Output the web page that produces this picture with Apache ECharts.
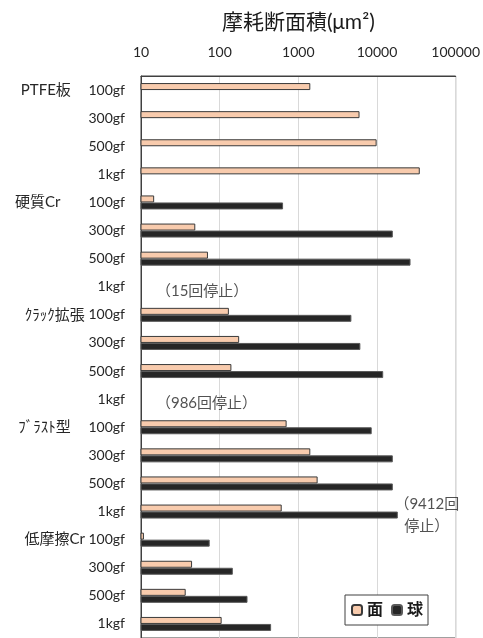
<!DOCTYPE html>
<html>
<head>
<meta charset="utf-8">
<script src="https://cdn.jsdelivr.net/npm/echarts@6/dist/echarts.min.js"></script>
<style>
  html, body { margin: 0; padding: 0; background: #fff; overflow: hidden; }
  #chart { width: 483px; height: 638px; }
</style>
</head>
<body>
<div id="chart"></div>
<script>
// Wear cross-section area per specimen and load (log scale)
const categories = [
  'PTFE板　 100gf', '300gf', '500gf', '1kgf',
  '硬質Cr　　100gf', '300gf', '500gf', '1kgf',
  'ｸﾗｯｸ拡張 100gf', '300gf', '500gf', '1kgf',
  'ﾌﾞﾗｽﾄ型　 100gf', '300gf', '500gf', '1kgf',
  '低摩擦Cr 100gf', '300gf', '500gf', '1kgf'
];
// 面 (plate side)
const menValues = [
  1420, 6000, 9900, 35000,
  14.7, 49, 71, null,
  131, 177, 141, null,
  710, 1420, 1760, 615,
  10.9, 44.6, 37, 106
];
// 球 (ball side)
const kyuValues = [
  null, null, null, null,
  640, 15900, 26700, null,
  4730, 6150, 12000, null,
  8570, 15900, 15900, 18400,
  74.7, 147, 226, 451
];
const xTicks = [10, 100, 1000, 10000, 100000];
// Stop notes: [x value, category index, text]
const notes = [
  [15.5, 7, '（15回停止）'],
  [15.5, 11, '（986回停止）'],
  [43000, 15, '（9412回\n停止）']
];

const FONT = 'Lato, "Noto Sans CJK JP", sans-serif';
const chart = echarts.init(document.getElementById('chart'), null, { renderer: 'canvas' });

// Split "group<space>load" so the specimen name and load can be styled separately
function categoryLabel(text) {
  const m = text.match(/^(.*?)([ 　]+)(\S+)$/);
  if (!m) return '{l|' + text + '}';
  return '{g|' + m[1] + '}{s|' + m[2] + '}{l|' + m[3] + '}';
}

chart.setOption({
  animation: false,
  backgroundColor: '#ffffff',
  textStyle: { fontFamily: FONT },
  grid: {
    left: 141, top: 76, width: 316, height: 565,
    show: true, borderColor: '#404040', borderWidth: 1, backgroundColor: 'transparent'
  },
  legend: {
    data: ['面', '球'],
    left: 345, top: 595,
    orient: 'horizontal',
    itemWidth: 10, itemHeight: 10, itemGap: 8,
    padding: [7, 5, 7, 6],
    borderColor: '#404040', borderWidth: 1, backgroundColor: '#fff',
    textStyle: { fontSize: 16, fontWeight: 'bold', color: '#1a1a1a', fontFamily: FONT }
  },
  xAxis: {
    type: 'log', logBase: 10, min: 10, max: 100000,
    position: 'top',
    name: '摩耗断面積(μm²)',
    nameLocation: 'middle', nameGap: 43,
    nameTextStyle: { fontSize: 21, color: '#1a1a1a', fontFamily: FONT },
    axisLine: { show: true, lineStyle: { color: '#404040' } },
    axisTick: { show: false },
    axisLabel: {
      fontSize: 14, color: '#262626', margin: 17,
      formatter: v => xTicks.includes(Math.round(v)) ? String(Math.round(v)) : ''
    },
    splitLine: { show: true, lineStyle: { color: '#d9d9d9', width: 1 } }
  },
  yAxis: {
    type: 'category', inverse: true, data: categories,
    axisLine: { show: true, lineStyle: { color: '#404040' } },
    axisTick: { show: false },
    axisLabel: {
      margin: 16, color: '#262626', fontFamily: FONT,
      formatter: categoryLabel,
      rich: {
        g: { fontSize: 15, color: '#262626', fontFamily: FONT },
        s: { fontSize: 14, color: '#262626', fontFamily: FONT },
        l: { fontSize: 14, color: '#262626', fontFamily: FONT }
      }
    }
  },
  series: [
    {
      name: '面', type: 'bar', data: menValues,
      barWidth: 7, barGap: '0%',
      itemStyle: { color: '#F8CBAD', borderColor: '#3a3a3a', borderWidth: 1 }
    },
    {
      name: '球', type: 'bar', data: kyuValues,
      barWidth: 7, barGap: '0%',
      itemStyle: { color: '#262626', borderColor: '#595959', borderWidth: 1 }
    },
    {
      name: 'notes', type: 'scatter', symbolSize: 0, silent: true,
      data: notes.map((n, i) => ({
        value: [n[0], n[1]],
        label: {
          show: true, formatter: n[2],
          position: [0, 4],
          align: i < 2 ? 'left' : 'center',
          verticalAlign: 'middle',
          fontSize: 15, lineHeight: 22, color: '#262626', fontFamily: FONT
        }
      }))
    }
  ]
});
</script>
</body>
</html>
